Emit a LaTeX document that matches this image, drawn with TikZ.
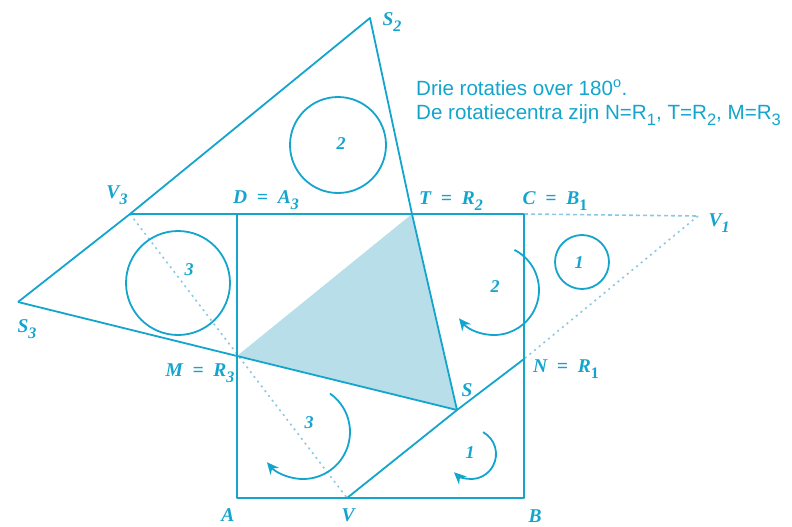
\documentclass[tikz,border=0pt]{standalone}
\usepackage{fontspec}
\setmainfont{Liberation Serif}
\newfontfamily\labelsans{Liberation Sans}
\usetikzlibrary{arrows.meta}
\definecolor{geo}{RGB}{20,165,205}
\definecolor{geofill}{RGB}{184,222,234}
\definecolor{geolight}{RGB}{140,200,225}
\newcommand{\sbi}[1]{\raisebox{-0.32em}{\fontsize{16}{16}\selectfont #1}}
\newcommand{\sbs}[1]{\raisebox{-0.3em}{\fontsize{16.5}{16.5}\selectfont #1}}
\newcommand{\eqs}{\enspace=\enspace}
\begin{document}
\begin{tikzpicture}[x=1pt,y=-1pt,
  lab/.style={text=geo, font=\fontsize{19.5}{19.5}\selectfont\bfseries\itshape, inner sep=0pt},
  num/.style={text=geo, font=\fontsize{18}{18}\selectfont\bfseries\itshape, inner sep=0pt},
  seg/.style={draw=geo, line width=1.8pt, line join=round},
  topseg/.style={draw=geo, line width=2.5pt},
  dashline/.style={draw=geolight, line width=1.6pt, dash pattern=on 4pt off 3pt},
  dotline/.style={draw=geolight, line width=1.6pt, dash pattern=on 2pt off 4pt},
  rot/.style={draw=geo, line width=1.8pt, -{Stealth[length=12pt,width=11pt]}},
  note/.style={text=geo, font=\labelsans\fontsize{20.6}{20.6}\selectfont, inner sep=0pt, anchor=base west}]
\useasboundingbox (0,0) rectangle (792,527);
\fill[white] (0,0) rectangle (792,527);

% points
\coordinate (A) at (237,498);
\coordinate (B) at (524,498);
\coordinate (C) at (524,214);
\coordinate (D) at (237,214);
\coordinate (V3) at (130,214);
\coordinate (T) at (412,214);
\coordinate (S2) at (370,18);
\coordinate (S3) at (18,302);
\coordinate (M) at (237,356);
\coordinate (S) at (457,410);
\coordinate (N) at (524,359);
\coordinate (V) at (347,498);
\coordinate (V1) at (698,216);

% shaded triangle
\fill[geofill] (M) -- (T) -- (S) -- cycle;

% auxiliary lines
\draw[dashline] (C) -- (V1);
\draw[dotline] (V1) -- (N);
\draw[dotline] (V3) -- (V);

% main lines
\draw[seg] (S3) -- (V3) -- (S2) -- (T) -- (S);
\draw[seg] (S3) -- (M) -- (S);
\draw[seg] (V) -- (S) -- (N);
\draw[seg] (D) -- (A) -- (B) -- (C);
\draw[topseg] (V3) -- (C);

% circles
\draw[seg] (338,145) circle[radius=48];
\draw[seg] (178,283) circle[radius=52];
\draw[seg] (582,262) circle[radius=27];

% rotation arrows
\draw[rot] (494,290) ++(-63:45) arc[start angle=-63, end angle=141, radius=45];
\draw[rot] (303,432) ++(-55:47) arc[start angle=-55, end angle=140, radius=47];
\draw[rot] (471,454) ++(-61:25) arc[start angle=-61, end angle=133, radius=25];

% numbers
\node[num] (n2c) at (341,144) {2};
\node[num] (n3c) at (189,270) {3};
\node[num] (n1c) at (579,263) {1};
\node[num] (n2a) at (495,287) {2};
\node[num] (n3a) at (309,423) {3};
\node[num] (n1a) at (470,453) {1};

% point labels
\node[lab] (lS2) at (392,22) {S\sbi{2}};
\node[lab] (lV3) at (117,195) {V\sbi{3}};
\node[lab] (lD) at (266,200) {D\eqs A\sbi{3}};
\node[lab] (lT) at (451,201) {T\eqs R\sbi{2}};
\node[lab] (lC) at (555,201) {C\eqs B\sbi{\upshape 1}};
\node[lab] (lV1) at (719,223) {V\sbi{1}};
\node[lab] (lS3) at (27,329) {S\sbi{3}};
\node[lab] (lM) at (200,373) {M\eqs R\sbi{3}};
\node[lab] (lS) at (467,390) {S};
\node[lab] (lN) at (566,369) {N\eqs R\sbi{\upshape 1}};
\node[lab] (lA) at (228,515) {A};
\node[lab] (lV) at (348,515) {V};
\node[lab] (lB) at (535,516) {B};

% note
\node[note] (t1) at (416,95) {Drie rotaties over 180\textsuperscript{o}.};
\node[note] (t2) at (416,119) {De rotatiecentra zijn N=R\sbs{1}, T=R\sbs{2}, M=R\sbs{3}};
\end{tikzpicture}
\end{document}
